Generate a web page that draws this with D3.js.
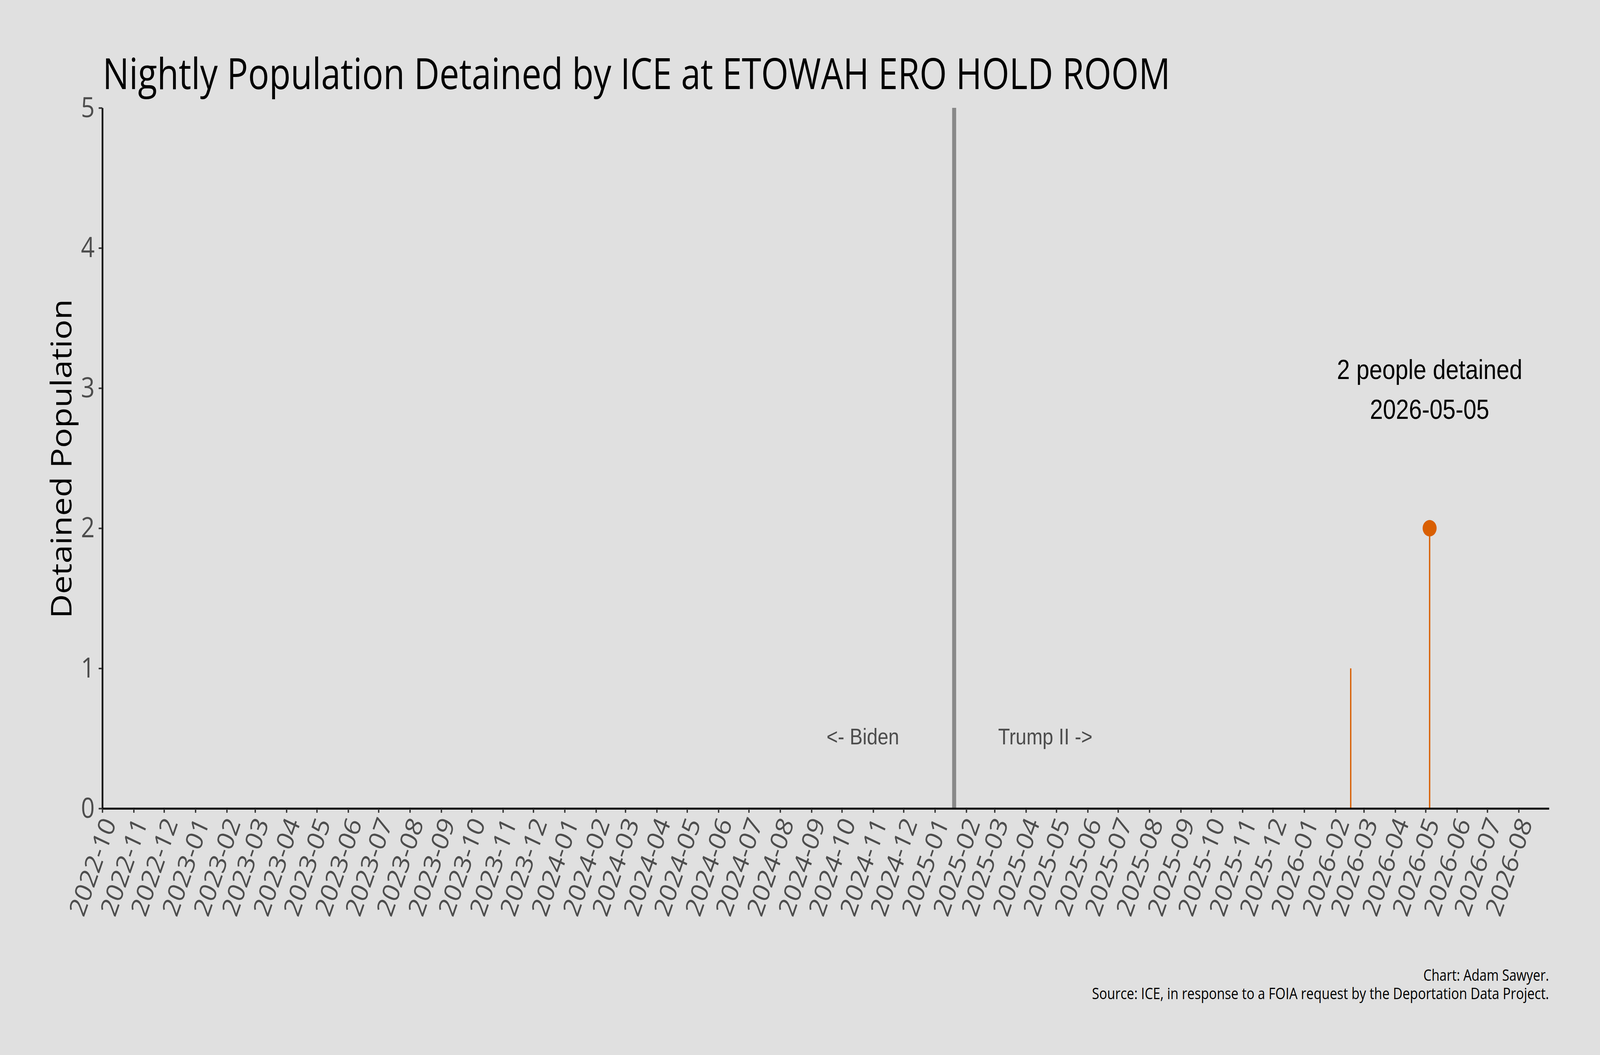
<!DOCTYPE html>
<html>
<head>
<meta charset="utf-8">
<script src="https://cdn.jsdelivr.net/npm/d3@7"></script>
<style>
  html, body { margin: 0; padding: 0; background: #e0e0e0; overflow: hidden; }
  svg { display: block; width: 100vw; height: 100vh; }
</style>
</head>
<body>
<script>
// nights with a non-zero population (all other nights are 0)
var nightDates = ['2026-02-16', '2026-05-05'];
var nightPop = [1, 2];

var yTicks = [0, 1, 2, 3, 4, 5];
var xDomain = ['2022-10-01', '2026-08-31'];
var inauguration = '2025-01-20';

var title = 'Nightly Population Detained by ICE at ETOWAH ERO HOLD ROOM';
var yLabel = 'Detained Population';
var captionLines = [
    'Chart: Adam Sawyer.',
    'Source: ICE, in response to a FOIA request by the Deportation Data Project.'
];

var W = 4800, H = 2700;
var m = { left: 307, right: 4647, top: 276, bottom: 2069 };
var parse = d3.utcParse('%Y-%m-%d');
var sans = "'Open Sans', 'Noto Sans', sans-serif";
var arial = "'Liberation Sans', Arial, sans-serif";
var orange = '#d95f02';

// the picture is stretched onto the whole window
var svg = d3.select('body').append('svg')
    .attr('viewBox', '0 0 ' + W + ' ' + H)
    .attr('preserveAspectRatio', 'none');

svg.append('rect')
    .attr('width', W)
    .attr('height', H)
    .style('fill', '#e0e0e0');

var x = d3.scaleUtc()
    .domain(xDomain.map(parse))
    .range([m.left, m.right]);

var y = d3.scaleLinear()
    .domain([0, 5])
    .range([m.bottom, m.top]);

// title
svg.append('text')
    .attr('x', 308)
    .attr('y', 228)
    .attr('textLength', 3203)
    .attr('lengthAdjust', 'spacingAndGlyphs')
    .style('font-family', sans)
    .style('font-size', '110px')
    .style('fill', '#000')
    .text(title);

// y axis label
svg.append('text')
    .attr('transform', 'translate(214,1174) rotate(-90)')
    .attr('text-anchor', 'middle')
    .attr('textLength', 817)
    .attr('lengthAdjust', 'spacingAndGlyphs')
    .style('font-family', sans)
    .style('font-size', '86px')
    .style('fill', '#000')
    .text(yLabel);

// inauguration line
var xi = x(parse(inauguration));
svg.append('line')
    .attr('x1', xi).attr('x2', xi)
    .attr('y1', y(5)).attr('y2', y(0))
    .style('stroke', '#888888')
    .style('stroke-width', 12);

svg.append('text')
    .attr('x', xi - 165)
    .attr('y', 1905)
    .attr('text-anchor', 'end')
    .style('font-family', arial)
    .style('font-size', '58px')
    .style('fill', '#4d4d4d')
    .text('<- Biden');

svg.append('text')
    .attr('x', xi + 132)
    .attr('y', 1905)
    .attr('text-anchor', 'start')
    .style('font-family', arial)
    .style('font-size', '58px')
    .style('fill', '#4d4d4d')
    .text('Trump II ->');

// stems
var points = nightDates.map(function (d, i) {
    return { date: parse(d), pop: nightPop[i], label: d };
});

svg.append('g').selectAll('line')
    .data(points)
    .enter().append('line')
    .attr('x1', function (d) { return x(d.date); })
    .attr('x2', function (d) { return x(d.date); })
    .attr('y1', y(0))
    .attr('y2', function (d) { return y(d.pop); })
    .style('stroke', orange)
    .style('stroke-width', 4);

// peak marker + annotation
var peak = points.reduce(function (a, b) { return b.pop > a.pop ? b : a; });

svg.append('circle')
    .attr('cx', x(peak.date))
    .attr('cy', y(peak.pop))
    .attr('r', 21)
    .style('fill', orange);

var note = svg.append('text')
    .attr('text-anchor', 'middle')
    .style('font-family', arial)
    .style('font-size', '70px')
    .style('fill', '#000');
note.append('tspan')
    .attr('x', x(peak.date))
    .attr('y', 970)
    .text(peak.pop + ' people detained');
note.append('tspan')
    .attr('x', x(peak.date))
    .attr('y', 1072)
    .text(peak.label);

// axes
var yAxis = svg.append('g')
    .attr('transform', 'translate(' + m.left + ',0)')
    .call(d3.axisLeft(y)
        .tickValues(yTicks)
        .tickSize(11)
        .tickSizeOuter(0)
        .tickPadding(12)
        .tickFormat(d3.format('d')));

var months = x.ticks(d3.utcMonth.every(1));
var xAxis = svg.append('g')
    .attr('transform', 'translate(0,' + m.bottom + ')')
    .call(d3.axisBottom(x)
        .tickValues(months)
        .tickSize(11)
        .tickSizeOuter(0)
        .tickFormat(d3.utcFormat('%Y-%m')));

[yAxis, xAxis].forEach(function (g) {
    g.select('.domain')
        .style('stroke', '#000')
        .style('stroke-width', 5);
    g.selectAll('.tick line')
        .style('stroke', '#333')
        .style('stroke-width', 4);
    g.selectAll('.tick text')
        .style('font-family', sans)
        .style('fill', '#4d4d4d');
});

yAxis.selectAll('.tick text').style('font-size', '72px');

xAxis.selectAll('.tick text')
    .style('font-size', '70px')
    .attr('y', 0)
    .attr('dy', 0)
    .attr('text-anchor', 'end')
    .attr('transform', 'translate(42,37) rotate(-68)');

// caption
svg.append('g').selectAll('text')
    .data(captionLines)
    .enter().append('text')
    .attr('x', m.right)
    .attr('y', function (d, i) { return 2510 + i * 47; })
    .attr('text-anchor', 'end')
    .attr('textLength', function (d, i) { return i === 0 ? 377 : 1371; })
    .attr('lengthAdjust', 'spacingAndGlyphs')
    .style('font-family', sans)
    .style('font-size', '40px')
    .style('fill', '#000')
    .text(function (d) { return d; });
</script>
</body>
</html>
